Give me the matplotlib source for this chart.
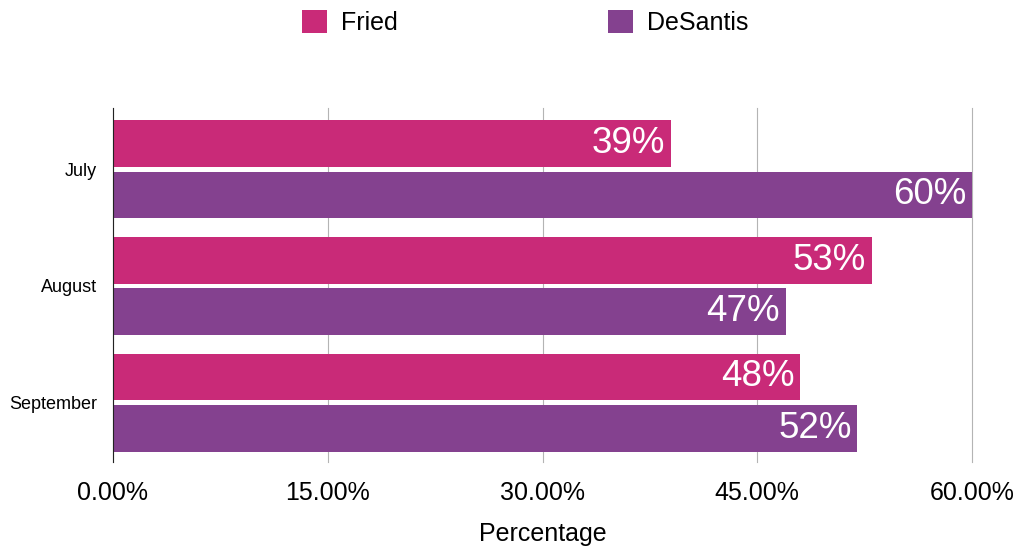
import matplotlib
matplotlib.use("Agg")
import matplotlib.pyplot as plt
from matplotlib.patches import Patch
import numpy as np

months = ["July", "August", "September"]
fried = [39, 53, 48]
desantis = [60, 47, 52]
xticks = [0, 15, 30, 45, 60]
xtick_labels = ["0.00%", "15.00%", "30.00%", "45.00%", "60.00%"]
series_names = ["Fried", "DeSantis"]

pink = "#C92A78"
purple = "#84418F"

plt.rcParams["font.family"] = ["Liberation Sans", "DejaVu Sans"]

W, H = 1017, 546
fig = plt.figure(figsize=(W / 100, H / 100), dpi=100)
left, right, top, bottom = 113, 972, 108, 462
ax = fig.add_axes([left / W, 1 - bottom / H, (right - left) / W, (bottom - top) / H])

y = np.arange(len(months))
h = 0.40
off = 0.22
b1 = ax.barh(y - off, fried, height=h, color=pink, zorder=3)
b2 = ax.barh(y + off, desantis, height=h, color=purple, zorder=3)

for bars, vals in ((b1, fried), (b2, desantis)):
    for rect, v in zip(bars, vals):
        ax.annotate(f"{v}%", xy=(rect.get_width(), rect.get_y() + rect.get_height() / 2),
                    xytext=(-6, 0), textcoords="offset pixels",
                    ha="right", va="center", color="white", fontsize=26.5, zorder=4)

ax.set_xlim(0, 60)
ax.set_ylim(2.51, -0.526)
ax.set_yticks(y)
ax.set_yticklabels(months, fontsize=13)
ax.set_xticks(xticks)
ax.set_xticklabels(xtick_labels, fontsize=18)
ax.tick_params(axis="y", length=0, pad=11.5)
ax.tick_params(axis="x", length=0, pad=14)
ax.grid(axis="x", color="#b4b4b4", linewidth=0.8, zorder=0)
for gl in ax.get_xgridlines():
    gl.set_clip_on(False)
ax.set_axisbelow(True)
for s in ("top", "right", "bottom"):
    ax.spines[s].set_visible(False)
ax.spines["left"].set_color("#222222")
ax.spines["left"].set_linewidth(0.8)
ax.spines["left"].set_zorder(5)
ax.set_xlabel("Percentage", fontsize=18, labelpad=12)

handles = [Patch(facecolor=pink, edgecolor="none"), Patch(facecolor=purple, edgecolor="none")]
fig.legend(handles, series_names, loc="center left", bbox_to_anchor=(302 / W, 1 - 22.5 / H),
           ncol=2, frameon=False, fontsize=18, handlelength=1, handleheight=1,
           handletextpad=0.56, columnspacing=8.4, borderpad=0, borderaxespad=0)

fig.savefig("out.png", dpi=100)
